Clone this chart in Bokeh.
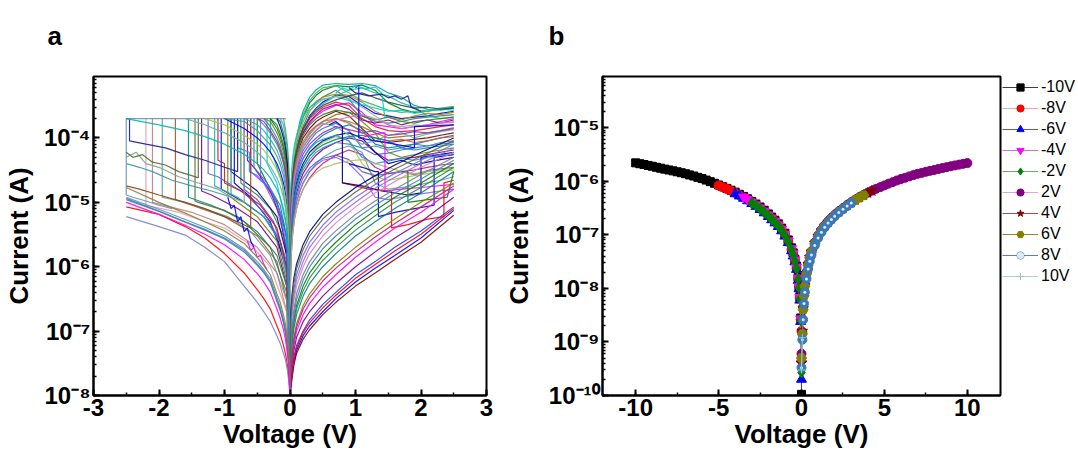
import numpy as np
from bokeh.plotting import figure
from bokeh.layouts import row, column
from bokeh.models import (SingleIntervalTicker, LogTicker, CustomJSTickFormatter, Legend,
                          LegendItem, Label)
from bokeh.embed import file_html
from bokeh.resources import INLINE

# ======================= Panel a data (I-V cycles) =======================
A_VN = [0, -0.005, -0.01, -0.02, -0.04, -0.07, -0.1, -0.15, -0.2, -0.3, -0.4, -0.5,
        -0.7, -1.0, -1.3, -1.6, -2.0, -2.5]
A_LRS_NEG = [
    [1.5e-8, 6e-6, 1.2e-5, 2.4e-5, 4.8e-5, 8.5e-5, 1.2e-4, 1.8e-4, 2e-4],
    [2e-8, 4e-6, 8e-6, 1.6e-5, 3.2e-5, 5.6e-5, 8e-5, 1.2e-4, 1.6e-4, 2e-4],
    [1e-8, 2.5e-6, 5e-6, 1e-5, 2e-5, 3.5e-5, 5e-5, 7.5e-5, 1e-4, 1.5e-4, 2e-4],
    [1.2e-8, 1.6e-6, 3.2e-6, 6.5e-6, 1.3e-5, 2.2e-5, 3.2e-5, 4.8e-5, 6.5e-5, 9.5e-5, 1.3e-4, 1.6e-4, 2e-4],
    [1e-8, 1e-6, 2e-6, 4e-6, 8e-6, 1.4e-5, 2e-5, 3e-5, 4e-5, 6e-5, 8e-5, 1e-4, 1.4e-4, 2e-4],
    [2e-8, 6e-7, 1.2e-6, 2.5e-6, 5e-6, 8.5e-6, 1.2e-5, 1.8e-5, 2.4e-5, 3.6e-5, 4.8e-5, 6e-5, 8.5e-5, 1.2e-4, 1.6e-4, 2e-4],
    [1e-8, 3.5e-6, 7e-6, 1.4e-5, 2.8e-5, 4.9e-5, 7e-5, 1.05e-4, 1.4e-4, 2e-4],
    [1e-8, 8e-6, 1.6e-5, 3.2e-5, 6.4e-5, 1.1e-4, 1.6e-4, 2e-4],
    [3e-8, 2e-6, 4e-6, 8e-6, 1.6e-5, 2.8e-5, 4e-5, 6e-5, 8e-5, 1.2e-4, 1.6e-4, 2e-4],
    [1e-8, 1.3e-6, 2.6e-6, 5.2e-6, 1e-5, 1.8e-5, 2.6e-5, 3.9e-5, 5.2e-5, 7.8e-5, 1e-4, 1.3e-4, 1.8e-4, 2e-4],
    [1e-8, 3e-6, 6e-6, 1.2e-5, 2.4e-5, 4.2e-5, 6e-5, 9e-5, 1.2e-4, 1.8e-4, 2e-4],
    [1.5e-8, 5e-6, 1e-5, 2e-5, 4e-5, 7e-5, 1e-4, 1.5e-4, 2e-4],
    [1e-8, 8e-7, 1.6e-6, 3.2e-6, 6.4e-6, 1.1e-5, 1.6e-5, 2.4e-5, 3.2e-5, 4.8e-5, 6.4e-5, 8e-5, 1.1e-4, 1.6e-4, 2e-4],
    [2e-8, 2.2e-6, 4.4e-6, 8.8e-6, 1.8e-5, 3.1e-5, 4.4e-5, 6.6e-5, 8.8e-5, 1.3e-4, 1.8e-4, 2e-4],
    [1e-8, 4e-7, 8e-7, 1.6e-6, 3.2e-6, 5.6e-6, 8e-6, 1.2e-5, 1.6e-5, 2.4e-5, 3.2e-5, 4e-5, 5.6e-5, 8e-5, 1.05e-4, 1.3e-4, 1.6e-4, 2e-4],
    [1e-8, 1e-5, 2e-5, 4e-5, 8e-5, 1.4e-4, 2e-4],
]
A_HRS_NEG = [
    [1e-8, 1.5e-8, 2.2e-8, 3.5e-8, 6e-8, 1e-7, 1.4e-7, 2.2e-7, 3e-7, 6e-7, 8.5e-7, 1.1e-6, 1.8e-6, 2.8e-6, 3.8e-6, 5e-6, 7.3e-6, 1.15e-5],
    [1e-8, 1.6e-8, 2.4e-8, 3.8e-8, 6.5e-8, 1.1e-7, 1.5e-7, 2.4e-7, 3.3e-7, 6.5e-7, 9e-7, 1.2e-6, 1.9e-6, 3e-6, 4.1e-6, 5.4e-6, 7.8e-6, 1.2e-5],
    [1e-8, 1.4e-8, 2e-8, 3.3e-8, 5.6e-8, 9.5e-8, 1.35e-7, 2.1e-7, 2.9e-7, 5.7e-7, 8e-7, 1.05e-6, 1.7e-6, 2.7e-6, 3.7e-6, 4.9e-6, 7.2e-6, 1.1e-5],
    [1e-8, 1.2e-8, 1.5e-8, 2e-8, 3e-8, 4.5e-8, 6e-8, 9e-8, 1.2e-7, 2.2e-7, 3.2e-7, 4.4e-7, 8e-7, 1.6e-6, 2.8e-6, 4.2e-6, 6.5e-6, 8.5e-6],
    [1e-8, 1.1e-8, 1.3e-8, 1.7e-8, 2.5e-8, 3.6e-8, 4.5e-8, 6.5e-8, 8.5e-8, 1.4e-7, 2e-7, 2.8e-7, 5e-7, 1.2e-6, 2e-6, 3.1e-6, 4.2e-6, 6e-6],
    [1e-8, 1.8e-8, 2.8e-8, 4.6e-8, 8e-8, 1.3e-7, 1.8e-7, 2.8e-7, 3.8e-7, 7.5e-7, 1.05e-6, 1.4e-6, 2.3e-6, 3.6e-6, 5e-6, 6.8e-6, 1e-5, 1.7e-5],
    [1e-8, 1.3e-8, 1.8e-8, 2.8e-8, 4.5e-8, 7.5e-8, 1.05e-7, 1.6e-7, 2.2e-7, 4e-7, 5.8e-7, 7.8e-7, 1.3e-6, 2.2e-6, 3.2e-6, 4.4e-6, 6.5e-6, 1e-5],
]
A_SET_V = [
    [0, -0.05, -0.2, -0.5, -1.0, -1.5, -2.1, -2.1],
    [0, -0.05, -0.2, -0.5, -1.0, -1.5, -1.75, -1.75],
    [0, -0.05, -0.2, -0.5, -0.8, -1.2, -1.35, -1.35],
    [0, -0.05, -0.2, -0.4, -0.7, -1.0, -1.05, -1.05],
    [0, -0.03, -0.1, -0.3, -0.5, -0.75, -0.75],
    [0, -0.03, -0.1, -0.2, -0.4, -0.6, -0.6],
    [0, -0.05, -0.2, -0.5, -0.9, -0.9],
    [0, -0.05, -0.2, -0.5, -0.5],
    [0, -0.05, -0.2, -0.4, -0.45, -0.45],
    [0, -0.05, -0.3, -0.6, -0.85, -0.85],
    [0, -0.05, -0.2, -0.5, -0.8, -1.2, -1.55, -1.55],
    [0, -0.05, -0.2, -0.5, -0.8, -0.95, -0.95],
    [0, -0.05, -0.2, -0.35, -0.35],
    [0, -0.05, -0.3, -0.6, -1.0, -1.3, -1.7, -2.2, -2.2],
    [0, -0.04, -0.15, -0.4, -0.7, -1.1, -1.25, -1.25],
    [0, -0.04, -0.15, -0.3, -0.55, -0.65, -0.65],
    [0, -0.04, -0.15, -0.4, -0.8, -1.15, -1.15],
    [0, -0.04, -0.15, -0.35, -0.55, -0.55],
    [0, -0.05, -0.25, -0.5, -0.7, -0.7],
    [0, -0.05, -0.3, -0.7, -1.0, -1.4, -1.45, -1.45],
    [0, -0.04, -0.12, -0.25, -0.3, -0.3],
    [0, -0.05, -0.2, -0.45, -0.75, -1.0, -1.0, -1.1, -1.1],
    [0, -0.05, -0.3, -0.6, -0.95, -1.6, -1.95, -1.95],
    [0, -0.04, -0.15, -0.3, -0.5, -0.62, -0.62, -0.8, -0.8],
]
A_SET_I = [
    [1e-8, 2e-7, 8e-7, 2e-6, 4.5e-6, 7e-6, 1e-5, 2e-4],
    [1e-8, 3e-7, 1.2e-6, 3e-6, 6e-6, 9e-6, 1.1e-5, 2e-4],
    [1e-8, 5e-7, 2e-6, 5e-6, 8e-6, 1.3e-5, 1.5e-5, 2e-4],
    [1e-8, 8e-7, 3e-6, 6e-6, 1e-5, 1.5e-5, 1.6e-5, 2e-4],
    [1e-8, 1e-6, 3e-6, 8e-6, 1.3e-5, 2e-5, 2e-4],
    [1e-8, 2e-6, 5e-6, 1e-5, 2e-5, 3e-5, 2e-4],
    [1e-8, 1.5e-6, 6e-6, 1.5e-5, 3e-5, 2e-4],
    [1e-8, 3e-6, 1e-5, 4e-5, 2e-4],
    [1e-8, 2e-6, 8e-6, 2e-5, 2.2e-5, 2e-4],
    [1e-8, 1e-6, 5e-6, 1.2e-5, 2e-5, 2e-4],
    [1e-8, 5e-7, 1.5e-6, 3.5e-6, 6e-6, 9e-6, 1.2e-5, 2e-4],
    [1e-8, 6e-7, 2.5e-6, 6e-6, 1e-5, 1.3e-5, 2e-4],
    [1e-8, 4e-6, 2e-5, 4e-5, 2e-4],
    [1e-8, 2e-7, 1e-6, 2.2e-6, 4e-6, 5e-6, 7e-6, 9e-6, 2e-4],
    [1e-8, 7e-7, 2.5e-6, 7e-6, 1.4e-5, 2.5e-5, 2.8e-5, 2e-4],
    [1e-8, 1.5e-6, 6e-6, 1.5e-5, 3.5e-5, 4.5e-5, 2e-4],
    [1e-8, 6e-7, 2.4e-6, 6e-6, 1.2e-5, 1.8e-5, 2e-4],
    [1e-8, 2.5e-6, 9e-6, 2e-5, 3.5e-5, 2e-4],
    [1e-8, 1.2e-6, 5e-6, 1.1e-5, 1.6e-5, 2e-4],
    [1e-8, 4e-7, 2e-6, 5e-6, 7.5e-6, 1e-5, 1.05e-5, 2e-4],
    [1e-8, 5e-6, 2e-5, 5e-5, 6e-5, 2e-4],
    [1e-8, 1e-6, 4e-6, 9e-6, 1.5e-5, 2e-5, 4e-5, 4.5e-5, 2e-4],
    [1e-8, 3e-7, 1.5e-6, 3.5e-6, 6e-6, 1e-5, 1.2e-5, 2e-4],
    [1e-8, 1.8e-6, 7e-6, 1.6e-5, 2.6e-5, 3e-5, 6e-5, 7e-5, 2e-4],
]
A_MID_V = [
    [-2.5, -2.45, -2.45, -2.2, -1.9, -1.6, -1.3, -1.0, -0.8, -0.8],
    [-2.5, -2.3, -2.1, -1.8, -1.5, -1.2, -1.0, -0.9, -0.9],
    [-2.5, -2.35, -2.2, -2.0, -1.7, -1.4, -1.1, -0.9, -0.7, -0.7],
    [-2.5, -2.3, -2.0, -1.6, -1.3, -1.0, -0.8, -0.6, -0.6],
    [-2.5, -2.5, -2.4, -2.2, -2.0, -1.8],
    [-2.5, -2.4, -2.25, -2.1, -1.9, -1.7, -1.5, -1.4, -1.4],
    [-0.95, -0.9, -0.85, -0.8, -0.75, -0.7, -0.65, -0.6, -0.55],
    [-0.65, -0.6, -0.55, -0.5, -0.45, -0.4, -0.35],
]
A_MID_I = [
    [2e-4, 2e-4, 9e-5, 8e-5, 7e-5, 5.5e-5, 4.5e-5, 3.5e-5, 3e-5, 2e-4],
    [4e-5, 3.5e-5, 3e-5, 2.2e-5, 1.8e-5, 1.5e-5, 1.3e-5, 1.2e-5, 2e-4],
    [5e-5, 6e-5, 4e-5, 3.5e-5, 2.5e-5, 2e-5, 1.6e-5, 1.2e-5, 1e-5, 2e-4],
    [1.8e-5, 1.6e-5, 1.3e-5, 1e-5, 8e-6, 6e-6, 5e-6, 4e-6, 2e-4],
    [2e-4, 1.3e-5, 1.2e-5, 1.05e-5, 9e-6, 8e-6],
    [6e-5, 5e-5, 5.5e-5, 4.2e-5, 3.8e-5, 3e-5, 2.6e-5, 2.4e-5, 2e-4],
    [1.2e-5, 8e-6, 9e-6, 5e-6, 6e-6, 3.5e-6, 4e-6, 2.5e-6, 2e-6],
    [2.5e-6, 1.8e-6, 2e-6, 1.4e-6, 1.5e-6, 1.1e-6, 9e-7],
]
A_COMP_V = [-2.5, -0.06]
A_COMP_I = [2e-4, 2e-4]
A_VP = [0, 0.005, 0.01, 0.02, 0.04, 0.07, 0.1, 0.15, 0.2, 0.3, 0.4, 0.5, 0.7, 0.9,
        1.1, 1.3, 1.5, 1.7, 1.9, 2.1, 2.3, 2.5]
A_LRS_POS = [
    [1e-8, 4e-6, 8e-6, 1.6e-5, 3.2e-5, 5.6e-5, 8e-5, 1.4e-4, 2.1e-4, 3.5e-4, 4.6e-4, 5.5e-4, 6.5e-4, 6.2e-4, 6.6e-4, 5.5e-4, 3.5e-4, 2.8e-4, 2.5e-4, 2.6e-4, 2.8e-4, 3e-4],
    [1e-8, 3e-6, 6e-6, 1.2e-5, 2.4e-5, 4.2e-5, 6e-5, 9.5e-5, 1.35e-4, 2.2e-4, 2.9e-4, 3.6e-4, 4.6e-4, 4.4e-4, 3.2e-4, 2.4e-4, 2.2e-4, 2e-4, 2.1e-4, 2.2e-4, 2.4e-4, 2.6e-4],
    [1e-8, 3e-6, 6e-6, 1.2e-5, 2.4e-5, 4.2e-5, 6e-5, 9e-5, 1.2e-4, 1.7e-4, 2.2e-4, 2.6e-4, 3.2e-4, 3.5e-4, 2.5e-4, 1.6e-4, 1.5e-4, 1.4e-4, 1.5e-4, 1.6e-4, 1.8e-4, 2e-4],
    [1e-8, 2e-6, 4e-6, 8e-6, 1.6e-5, 2.8e-5, 4e-5, 6e-5, 8e-5, 1.15e-4, 1.5e-4, 1.8e-4, 2.3e-4, 2.5e-4, 1.8e-4, 1.2e-4, 1e-4, 1.05e-4, 1.1e-4, 1.2e-4, 1.3e-4, 1.45e-4],
    [1e-8, 1.2e-6, 2.4e-6, 4.8e-6, 9.6e-6, 1.7e-5, 2.4e-5, 3.6e-5, 4.8e-5, 7e-5, 9e-5, 1.1e-4, 1.4e-4, 1.6e-4, 1.3e-4, 8e-5, 7e-5, 7.5e-5, 8e-5, 9e-5, 1e-4, 1.1e-4],
    [1e-8, 7e-7, 1.4e-6, 2.8e-6, 5.6e-6, 9.8e-6, 1.4e-5, 2.1e-5, 2.8e-5, 4.1e-5, 5.4e-5, 6.6e-5, 8.5e-5, 1e-4, 9e-5, 6e-5, 4.5e-5, 4.8e-5, 5e-5, 5.5e-5, 6e-5, 6.5e-5],
    [1e-8, 4e-7, 8e-7, 1.6e-6, 3.2e-6, 5.6e-6, 8e-6, 1.2e-5, 1.6e-5, 2.4e-5, 3.2e-5, 4e-5, 5.4e-5, 6.5e-5, 5.5e-5, 3.5e-5, 2.8e-5, 3e-5, 3.2e-5, 3.5e-5, 3.8e-5, 4e-5],
    [1e-8, 5e-6, 1e-5, 2e-5, 4e-5, 7e-5, 1e-4, 1.8e-4, 2.6e-4, 4.3e-4, 5.6e-4, 6.6e-4, 7e-4, 6.8e-4, 7e-4, 6.5e-4, 5e-4, 4.3e-4, 3.2e-4, 2.8e-4, 2.7e-4, 2.9e-4],
    [1e-8, 3e-6, 6e-6, 1.2e-5, 2.4e-5, 4.2e-5, 6e-5, 1e-4, 1.5e-4, 2.6e-4, 3.5e-4, 4.3e-4, 5.5e-4, 4e-4, 2.2e-4, 1.8e-4, 1.7e-4, 1.8e-4, 2e-4, 2.1e-4, 2.2e-4, 2.3e-4],
    [1e-8, 2.5e-6, 5e-6, 1e-5, 2e-5, 3.5e-5, 5e-5, 7.5e-5, 1e-4, 1.4e-4, 1.8e-4, 2.1e-4, 2.6e-4, 2.2e-4, 1.4e-4, 9e-5, 8.5e-5, 9e-5, 9.5e-5, 1e-4, 1.1e-4, 1.2e-4],
    [1e-8, 1.6e-6, 3.2e-6, 6.4e-6, 1.3e-5, 2.2e-5, 3.2e-5, 4.8e-5, 6.4e-5, 9e-5, 1.2e-4, 1.4e-4, 1.7e-4, 1.3e-4, 7e-5, 5.5e-5, 5.8e-5, 6.5e-5, 7e-5, 7.5e-5, 8e-5, 8.5e-5],
    [1e-8, 9e-7, 1.8e-6, 3.6e-6, 7.2e-6, 1.3e-5, 1.8e-5, 2.7e-5, 3.6e-5, 5.3e-5, 7e-5, 8.5e-5, 1.05e-4, 9e-5, 4e-5, 2.5e-5, 2.2e-5, 2.4e-5, 2.6e-5, 2.8e-5, 3e-5, 3.2e-5],
    [1e-8, 2.5e-6, 5e-6, 1e-5, 2e-5, 3.5e-5, 5e-5, 8.5e-5, 1.25e-4, 2.1e-4, 2.8e-4, 3.4e-4, 4.5e-4, 5.5e-4, 6e-4, 5e-4, 4.5e-4, 3.5e-4, 3e-4, 2.2e-4, 2e-4, 2.1e-4],
    [1e-8, 3.5e-6, 7e-6, 1.4e-5, 2.8e-5, 4.9e-5, 7e-5, 1.05e-4, 1.4e-4, 2e-4, 2.5e-4, 3e-4, 3.6e-4, 3.2e-4, 2e-4, 1.5e-4, 1.3e-4, 1.25e-4, 1.3e-4, 1.4e-4, 1.5e-4, 1.6e-4],
    [1e-8, 1.8e-6, 3.6e-6, 7.2e-6, 1.4e-5, 2.5e-5, 3.6e-5, 5.4e-5, 7.2e-5, 1e-4, 1.3e-4, 1.6e-4, 2e-4, 1.8e-4, 1.5e-4, 1.2e-4, 6e-5, 5e-5, 5.5e-5, 6e-5, 6.5e-5, 7e-5],
    [1e-8, 5e-7, 1e-6, 2e-6, 4e-6, 7e-6, 1e-5, 1.5e-5, 2e-5, 3e-5, 4e-5, 5e-5, 6.5e-5, 7.5e-5, 6e-5, 2e-5, 1.6e-5, 1.7e-5, 1.8e-5, 2e-5, 2.2e-5, 2.5e-5],
    [1e-8, 4.5e-6, 9e-6, 1.8e-5, 3.6e-5, 6.3e-5, 9e-5, 1.6e-4, 2.3e-4, 3.8e-4, 5e-4, 6e-4, 6.5e-4, 5e-4, 3.8e-4, 3.2e-4, 2.7e-4, 2.5e-4, 2.6e-4, 2.7e-4, 2.9e-4, 3.1e-4],
    [1e-8, 3e-6, 6e-6, 1.2e-5, 2.4e-5, 4.2e-5, 6e-5, 9e-5, 1.2e-4, 1.8e-4, 2.3e-4, 2.8e-4, 3.3e-4, 2.8e-4, 1.9e-4, 1.7e-4, 1.9e-4, 1.6e-4, 1.8e-4, 1.9e-4, 1.7e-4, 1.9e-4],
    [1e-8, 1e-6, 2e-6, 4e-6, 8e-6, 1.4e-5, 2e-5, 3e-5, 4e-5, 6e-5, 7.5e-5, 9e-5, 1.1e-4, 1.2e-4, 1e-4, 6e-5, 4e-5, 4.5e-5, 3.8e-5, 4.2e-5, 4.6e-5, 5e-5],
    [1e-8, 3.5e-6, 7e-6, 1.4e-5, 2.8e-5, 4.9e-5, 7e-5, 1.2e-4, 1.8e-4, 2.9e-4, 3.7e-4, 4.3e-4, 4.8e-4, 4.6e-4, 3.6e-4, 2.6e-4, 2.1e-4, 1.9e-4, 2.2e-4, 2.4e-4, 2.3e-4, 2.5e-4],
    [1e-8, 2e-6, 4e-6, 8e-6, 1.6e-5, 2.8e-5, 4e-5, 6e-5, 8e-5, 1.2e-4, 1.5e-4, 1.7e-4, 1.5e-4, 1.1e-4, 8e-5, 9e-5, 1.1e-4, 1.2e-4, 1e-4, 1.15e-4, 1.25e-4, 1.35e-4],
    [1e-8, 5e-7, 1e-6, 2e-6, 4e-6, 7e-6, 1e-5, 1.5e-5, 2e-5, 3e-5, 3.8e-5, 4.5e-5, 5e-5, 4e-5, 2.5e-5, 1.2e-5, 1.1e-5, 1.2e-5, 1.3e-5, 1.4e-5, 1.5e-5, 1.6e-5],
    [1e-8, 6e-6, 1.2e-5, 2.4e-5, 4.8e-5, 8e-5, 1.1e-4, 1.6e-4, 2.1e-4, 3e-4, 3.6e-4, 4e-4, 4.4e-4, 3.8e-4, 3.3e-4, 2.9e-4, 2.6e-4, 2.7e-4, 2.4e-4, 2.6e-4, 2.8e-4, 2.7e-4],
    [1e-8, 2.8e-6, 5.6e-6, 1.1e-5, 2.2e-5, 3.9e-5, 5.6e-5, 8.4e-5, 1.1e-4, 1.6e-4, 2e-4, 2.3e-4, 2.7e-4, 2.5e-4, 2.2e-4, 1.9e-4, 2.1e-4, 1.8e-4, 1.7e-4, 1.9e-4, 2e-4, 2.1e-4],
    [1e-8, 1.4e-6, 2.8e-6, 5.6e-6, 1.1e-5, 2e-5, 2.8e-5, 4.2e-5, 5.6e-5, 8e-5, 1e-4, 1.2e-4, 1.5e-4, 1.35e-4, 1.2e-4, 1.3e-4, 1.1e-4, 1.15e-4, 1.25e-4, 1.2e-4, 1.3e-4, 1.4e-4],
    [1e-8, 8e-7, 1.6e-6, 3.2e-6, 6.4e-6, 1.1e-5, 1.6e-5, 2.4e-5, 3.2e-5, 4.6e-5, 6e-5, 7e-5, 8.5e-5, 8e-5, 7e-5, 7.5e-5, 6.5e-5, 7e-5, 8e-5, 7.5e-5, 8.5e-5, 9e-5],
    [1e-8, 4.5e-6, 9e-6, 1.8e-5, 3.6e-5, 6.3e-5, 9e-5, 1.35e-4, 1.8e-4, 2.6e-4, 3.3e-4, 3.9e-4, 4.4e-4, 4.1e-4, 3e-4, 2.2e-4, 1.6e-4, 1.5e-4, 1.6e-4, 1.5e-4, 1.7e-4, 1.8e-4],
    [1e-8, 2.2e-6, 4.4e-6, 8.8e-6, 1.8e-5, 3.1e-5, 4.4e-5, 6.6e-5, 8.8e-5, 1.25e-4, 1.55e-4, 1.8e-4, 2e-4, 1.7e-4, 1.2e-4, 1e-4, 9e-5, 9.5e-5, 8.5e-5, 9e-5, 1e-4, 1.05e-4],
    [1e-8, 1.2e-6, 2.4e-6, 4.8e-6, 9.6e-6, 1.7e-5, 2.4e-5, 3.6e-5, 4.8e-5, 6.8e-5, 8.5e-5, 9.5e-5, 1.1e-4, 9e-5, 5e-5, 4e-5, 4.4e-5, 4.8e-5, 4.5e-5, 5e-5, 5.4e-5, 5.8e-5],
    [1e-8, 6e-7, 1.2e-6, 2.4e-6, 4.8e-6, 8.4e-6, 1.2e-5, 1.8e-5, 2.4e-5, 3.4e-5, 4.2e-5, 4.8e-5, 5.4e-5, 4.6e-5, 3e-5, 2.6e-5, 2.8e-5, 3e-5, 2.7e-5, 3.1e-5, 3.3e-5, 3.5e-5],
    [1e-8, 3.2e-6, 6.4e-6, 1.3e-5, 2.6e-5, 4.5e-5, 6.4e-5, 1e-4, 1.4e-4, 2.1e-4, 2.7e-4, 3.2e-4, 3.9e-4, 4.5e-4, 5e-4, 4.2e-4, 3.6e-4, 3.2e-4, 2.9e-4, 3e-4, 2.8e-4, 2.9e-4],
    [1e-8, 1.8e-6, 3.6e-6, 7.2e-6, 1.4e-5, 2.5e-5, 3.6e-5, 5.4e-5, 7.2e-5, 1.05e-4, 1.35e-4, 1.6e-4, 1.9e-4, 2.1e-4, 2.3e-4, 2e-4, 1.6e-4, 1.4e-4, 1.5e-4, 1.6e-4, 1.7e-4, 1.75e-4],
    [1e-8, 9e-7, 1.8e-6, 3.6e-6, 7.2e-6, 1.25e-5, 1.8e-5, 2.7e-5, 3.6e-5, 5.2e-5, 6.6e-5, 7.8e-5, 9.5e-5, 1.05e-4, 1.1e-4, 1e-4, 9e-5, 7e-5, 6.5e-5, 7e-5, 7.5e-5, 8e-5],
    [1e-8, 4e-7, 8e-7, 1.6e-6, 3.2e-6, 5.6e-6, 8e-6, 1.2e-5, 1.6e-5, 2.3e-5, 2.9e-5, 3.4e-5, 4e-5, 4.4e-5, 4.6e-5, 4e-5, 3.5e-5, 3e-5, 2.8e-5, 3e-5, 3.2e-5, 3.4e-5],
]
A_VH = [0, 0.01, 0.03, 0.06, 0.1, 0.2, 0.3, 0.5, 0.7, 1.0, 1.3, 1.6, 2.0, 2.5]
A_HRS_POS = [
    [1e-8, 1.2e-8, 1.8e-8, 3e-8, 4.5e-8, 7.5e-8, 1.05e-7, 1.8e-7, 2.8e-7, 5e-7, 8e-7, 1.3e-6, 2.4e-6, 6.3e-6],
    [1e-8, 1.3e-8, 2e-8, 3.3e-8, 5e-8, 8.5e-8, 1.2e-7, 2e-7, 3.2e-7, 5.8e-7, 9.5e-7, 1.5e-6, 2.8e-6, 7.5e-6],
    [1e-8, 1.5e-8, 2.4e-8, 4e-8, 6e-8, 1e-7, 1.5e-7, 2.6e-7, 4e-7, 7.5e-7, 1.2e-6, 2e-6, 3.6e-6, 8.5e-6],
    [1e-8, 1.8e-8, 3e-8, 5e-8, 8e-8, 1.4e-7, 2e-7, 3.5e-7, 5.5e-7, 1e-6, 1.7e-6, 2.8e-6, 5e-6, 1.2e-5],
    [1e-8, 2e-8, 3.5e-8, 6e-8, 1e-7, 1.8e-7, 2.7e-7, 4.8e-7, 7.5e-7, 1.4e-6, 2.4e-6, 4e-6, 7e-6, 1.6e-5],
    [1e-8, 2.5e-8, 4.5e-8, 8e-8, 1.3e-7, 2.5e-7, 3.8e-7, 7e-7, 1.1e-6, 2e-6, 3.4e-6, 5.5e-6, 1e-5, 2e-5],
    [1e-8, 3e-8, 6e-8, 1.1e-7, 1.8e-7, 3.5e-7, 5.5e-7, 1e-6, 1.6e-6, 3e-6, 5e-6, 8e-6, 1.4e-5, 3e-5],
    [1e-8, 4e-8, 8e-8, 1.5e-7, 2.5e-7, 5e-7, 8e-7, 1.5e-6, 2.4e-6, 4.5e-6, 7.5e-6, 1.2e-5, 2e-5, 4e-5],
    [1e-8, 6e-8, 1.2e-7, 2.2e-7, 3.8e-7, 7.5e-7, 1.2e-6, 2.3e-6, 3.6e-6, 6.5e-6, 1.05e-5, 1.6e-5, 2.7e-5, 5e-5],
    [1e-8, 8e-8, 1.6e-7, 3e-7, 5e-7, 1e-6, 1.6e-6, 3e-6, 4.8e-6, 8.5e-6, 1.4e-5, 2.1e-5, 3.5e-5, 6e-5],
    [1e-8, 1.2e-7, 2.4e-7, 4.5e-7, 7.5e-7, 1.5e-6, 2.4e-6, 4.4e-6, 7e-6, 1.2e-5, 1.9e-5, 2.8e-5, 4.5e-5, 8e-5],
    [1e-8, 1.8e-7, 3.6e-7, 6.8e-7, 1.1e-6, 2.2e-6, 3.5e-6, 6.5e-6, 1e-5, 1.7e-5, 2.6e-5, 3.8e-5, 6e-5, 1e-4],
    [1e-8, 1.4e-8, 2.2e-8, 3.6e-8, 5.5e-8, 9.5e-8, 1.35e-7, 2.3e-7, 3.6e-7, 6.6e-7, 1.08e-6, 1.75e-6, 3.2e-6, 8e-6],
    [1e-8, 2.2e-8, 4e-8, 7e-8, 1.15e-7, 2.2e-7, 3.3e-7, 6e-7, 9.5e-7, 1.7e-6, 2.9e-6, 4.7e-6, 8.5e-6, 1.8e-5],
    [1e-8, 3.5e-8, 7e-8, 1.3e-7, 2.2e-7, 4.2e-7, 6.7e-7, 1.25e-6, 2e-6, 3.7e-6, 6.2e-6, 1e-5, 1.7e-5, 3.5e-5],
    [1e-8, 5e-8, 1e-7, 1.8e-7, 3.1e-7, 6.2e-7, 1e-6, 1.9e-6, 3e-6, 5.5e-6, 9e-6, 1.4e-5, 2.3e-5, 4.5e-5],
    [1e-8, 1e-7, 2e-7, 3.7e-7, 6.2e-7, 1.2e-6, 2e-6, 3.7e-6, 5.9e-6, 1e-5, 1.65e-5, 2.45e-5, 4e-5, 7e-5],
    [1e-8, 1.5e-7, 3e-7, 5.6e-7, 9.3e-7, 1.85e-6, 3e-6, 5.5e-6, 8.5e-6, 1.45e-5, 2.25e-5, 3.3e-5, 5.2e-5, 9e-5],
]
A_RST_V = [
    [0.9, 1.1, 1.3, 1.35, 1.35, 1.6, 1.9, 2.2, 2.2, 2.5],
    [0.8, 1.0, 1.2, 1.55, 1.55, 1.8, 2.1, 2.35, 2.35, 2.5],
    [0.6, 0.7, 0.8, 0.8, 1.1, 1.4, 1.8, 2.0, 2.0, 2.5],
    [1.0, 1.05, 1.05, 1.3, 1.6, 1.9, 1.9, 2.5],
    [1.1, 1.2, 1.4, 1.45, 1.45, 1.7, 2.0, 2.5],
    [1.7, 1.8, 1.8, 2.1, 2.4, 2.5],
    [0.7, 0.8, 0.9, 1.0, 1.1, 1.2, 1.3, 1.4, 1.45],
    [0.9, 1.0, 1.2, 1.4, 1.5, 1.6, 1.7, 1.8, 1.85, 2.0],
]
A_RST_I = [
    [4e-5, 3.5e-5, 3e-5, 3e-5, 6e-6, 7e-6, 8e-6, 9e-6, 5e-5, 5.5e-5],
    [2e-5, 1.8e-5, 1.6e-5, 1.5e-5, 4e-6, 4.5e-6, 5.5e-6, 6e-6, 2e-5, 2.2e-5],
    [1.6e-4, 1.8e-4, 1.5e-4, 2e-5, 1.8e-5, 1.5e-5, 1.3e-5, 1.4e-5, 5e-5, 6e-5],
    [6e-4, 6.5e-4, 1e-4, 9e-5, 8e-5, 7e-5, 1.5e-4, 1.6e-4],
    [1e-4, 1.1e-4, 1.2e-4, 1.2e-4, 1.5e-5, 1.6e-5, 1.7e-5, 1.9e-5],
    [3e-5, 3e-5, 1e-5, 1.1e-5, 1.2e-5, 3e-5],
    [5e-4, 6e-4, 5.5e-4, 6.5e-4, 6e-4, 5.8e-4, 6.2e-4, 5e-4, 2e-4],
    [6e-4, 5e-4, 4.5e-4, 4.8e-4, 4.2e-4, 4.5e-4, 4e-4, 4.5e-4, 3e-4, 2.6e-4],
]

# ======================= Panel b data =======================
B_VN = [0, -0.05, -0.1, -0.15, -0.2, -0.3, -0.4, -0.5, -0.6, -0.8, -1.0, -1.2, -1.4, -1.6,
        -1.8, -2.0, -2.25, -2.5, -2.75, -3.0, -3.25, -3.5, -3.75, -4.0, -4.25, -4.5, -4.75,
        -5.0, -5.25, -5.5, -5.75, -6.0, -6.25, -6.5, -6.75, -7.0, -7.25, -7.5, -7.75, -8.0,
        -8.25, -8.5, -8.75, -9.0, -9.25, -9.5, -9.75, -10.0]
B_VP = [0, 0.05, 0.1, 0.15, 0.2, 0.3, 0.4, 0.5, 0.6, 0.8, 1.0, 1.2, 1.4, 1.6,
        1.8, 2.0, 2.25, 2.5, 2.75, 3.0, 3.25, 3.5, 3.75, 4.0, 4.25, 4.5, 4.75,
        5.0, 5.25, 5.5, 5.75, 6.0, 6.25, 6.5, 6.75, 7.0, 7.25, 7.5, 7.75, 8.0,
        8.25, 8.5, 8.75, 9.0, 9.25, 9.5, 9.75, 10.0]
B_LABELS = ["-10V", "-8V", "-6V", "-4V", "-2V", "2V", "4V", "6V", "8V", "10V"]
B_I = {
    "-10V": [1.05e-10, 2.8e-9, 7e-9, 1.12e-8, 1.6e-8, 2.6e-8, 3.5e-8, 4.6e-8, 5.7e-8, 8e-8, 1.07e-7, 1.33e-7,
             1.6e-7, 1.87e-7, 2.14e-7, 2.45e-7, 2.87e-7, 3.3e-7, 3.75e-7, 4.2e-7, 4.7e-7, 5.2e-7, 5.7e-7,
             6.25e-7, 6.8e-7, 7.35e-7, 7.9e-7, 8.5e-7, 9.15e-7, 9.8e-7, 1.05e-6, 1.12e-6, 1.18e-6, 1.25e-6,
             1.31e-6, 1.38e-6, 1.44e-6, 1.5e-6, 1.56e-6, 1.62e-6, 1.68e-6, 1.75e-6, 1.82e-6, 1.9e-6, 1.97e-6,
             2.05e-6, 2.12e-6, 2.2e-6],
    "-8V": [1.6e-9, 2.6e-9, 6.5e-9, 1.05e-8, 1.5e-8, 2.4e-8, 3.3e-8, 4.3e-8, 5.3e-8, 7.5e-8, 1e-7, 1.25e-7,
            1.5e-7, 1.75e-7, 2e-7, 2.3e-7, 2.7e-7, 3.1e-7, 3.55e-7, 4e-7, 4.5e-7, 5e-7, 5.5e-7, 6.05e-7,
            6.6e-7, 7.15e-7, 7.7e-7, 8.3e-7],
    "-6V": [2e-10, 2.4e-9, 6e-9, 9.8e-9, 1.4e-8, 2.25e-8, 3.1e-8, 4e-8, 5e-8, 7.1e-8, 9.4e-8, 1.18e-7,
            1.42e-7, 1.66e-7, 1.9e-7, 2.18e-7, 2.56e-7, 2.95e-7, 3.38e-7, 3.82e-7, 4.3e-7, 4.78e-7, 5.28e-7,
            5.8e-7],
    "-4V": [4e-10, 2.7e-9, 6.8e-9, 1.08e-8, 1.55e-8, 2.5e-8, 3.4e-8, 4.45e-8, 5.5e-8, 7.7e-8, 1.02e-7, 1.28e-7,
            1.53e-7, 1.79e-7, 2.05e-7, 2.35e-7, 2.76e-7, 3.17e-7, 3.62e-7, 4.08e-7, 4.58e-7, 5.08e-7],
    "-2V": [2.7e-10, 2.5e-9, 6.3e-9, 1.02e-8, 1.47e-8, 2.35e-8, 3.2e-8, 4.2e-8, 5.2e-8, 7.3e-8, 9.7e-8, 1.22e-7,
            1.46e-7, 1.71e-7, 1.96e-7, 2.25e-7, 2.64e-7, 3.03e-7, 3.47e-7, 3.9e-7],
    "2V": [6e-10, 1.5e-9, 4.5e-9, 8e-9, 1.2e-8, 2e-8, 2.9e-8, 3.9e-8, 4.9e-8, 7.2e-8, 9.7e-8, 1.23e-7,
           1.5e-7, 1.77e-7, 2.05e-7, 2.35e-7, 2.75e-7, 3.15e-7, 3.6e-7, 4.05e-7, 4.55e-7, 5.05e-7, 5.55e-7,
           6.1e-7, 6.65e-7, 7.2e-7, 7.75e-7, 8.35e-7, 9e-7, 9.6e-7, 1.03e-6, 1.1e-6, 1.16e-6, 1.23e-6,
           1.3e-6, 1.37e-6, 1.43e-6, 1.5e-6, 1.56e-6, 1.62e-6, 1.69e-6, 1.76e-6, 1.83e-6, 1.9e-6, 1.97e-6,
           2.04e-6, 2.11e-6, 2.18e-6],
    "4V": [4e-10, 1.6e-9, 4.2e-9, 7.6e-9, 1.15e-8, 1.9e-8, 2.8e-8, 3.8e-8, 4.8e-8, 7e-8, 9.4e-8, 1.2e-7,
           1.46e-7, 1.73e-7, 2e-7, 2.3e-7, 2.7e-7, 3.1e-7, 3.55e-7, 4e-7, 4.5e-7, 5e-7, 5.5e-7, 6.05e-7, 6.6e-7],
    "6V": [5e-10, 1.4e-9, 4e-9, 7.3e-9, 1.1e-8, 1.85e-8, 2.7e-8, 3.7e-8, 4.7e-8, 6.8e-8, 9.2e-8, 1.17e-7,
           1.43e-7, 1.7e-7, 1.97e-7, 2.27e-7, 2.66e-7, 3.06e-7, 3.5e-7, 3.95e-7, 4.45e-7, 4.95e-7, 5.45e-7],
    "8V": [3.3e-10, 1.1e-9, 2.6e-9, 5.2e-9, 8.5e-9, 1.5e-8, 2.3e-8, 3.2e-8, 4.2e-8, 6.3e-8, 8.7e-8, 1.12e-7,
           1.38e-7, 1.65e-7, 1.92e-7, 2.22e-7, 2.6e-7, 3e-7, 3.45e-7, 3.9e-7],
    "10V": [3e-10, 1.2e-9],
}

# ======================= styles =======================
FONT = "Liberation Sans"
COL_LRS_NEG = ["#008080", "#2E8B57", "#00A5A5", "#20B2AA", "#0000FF", "#66B2A0", "#008000", "#5F9EA0",
               "#3C8DC4", "#4A9A8A", "#808000", "#000080", "#9ACD32", "#C71585", "#00B4B4", "#3CB371"]
COL_HRS_NEG = ["#4682B4", "#5B8FB9", "#3F7FA8", "#FF0000", "#8080D0", "#8B7D3A", "#FF00FF"]
COL_SET = ["#C08080", "#A05A2C", "#800080", "#0000FF", "#2E8B57", "#FF00FF", "#000080", "#008000",
           "#7B68EE", "#0000CD", "#008B8B", "#808000", "#00CED1", "#E0A0B0", "#6A5ACD", "#8B008B",
           "#20B2AA", "#4169E1", "#9932CC", "#556B2F", "#00A5A5", "#B22222", "#5F9EA0", "#1E90FF"]
COL_MID = ["#1C1C8C", "#3A9A9A", "#7FA090", "#8B4513", "#6A8CC0", "#556B2F", "#0000FF", "#FF00FF"]
COL_LRS_POS = ["#008000", "#0000FF", "#FF00FF", "#808000", "#008080", "#800080", "#C71585", "#00A5A5",
               "#2E8B57", "#800000", "#4169E1", "#9ACD32", "#20B2AA", "#DC143C", "#6B8E23", "#5F9EA0",
               "#3CB371", "#8B008B", "#000080", "#B8860B", "#66B2A0", "#7B68EE", "#00CED1", "#228B22",
               "#9932CC", "#4682B4", "#8FBC8F", "#CD5C5C", "#1E90FF", "#6A5ACD", "#2F4F4F", "#DA70D6",
               "#008B8B", "#BDB76B"]
COL_HRS_POS = ["#800000", "#0000FF", "#1E3CFF", "#800080", "#FF00FF", "#808000", "#008080", "#008000",
               "#708090", "#E080C0", "#7B68EE", "#000080", "#FF0000", "#C71585", "#2E8B57", "#4682B4",
               "#9370DB", "#556B2F"]
COL_RST = ["#0000CD", "#FF0000", "#000080", "#0000FF", "#FF00FF", "#008000", "#00CED1", "#1C1C8C"]

B_MARK = {"-10V": ("square", "#000000", "#404040", 8), "-8V": ("circle", "#FF0000", "#F2A8A8", 9),
          "-6V": ("triangle", "#0000FF", "#5555C8", 10), "-4V": ("inverted_triangle", "#FF00FF", "#D070D0", 10),
          "-2V": ("diamond", "#008000", "#70A870", 11), "2V": ("circle", "#800080", "#D8A8D8", 9),
          "4V": ("star", "#800000", "#A05050", 11), "6V": ("hex", "#808000", "#8A8A30", 10),
          "8V": ("sphere", "#3A78B8", "#5A7FB0", 9), "10V": ("cross", "#8CC8C8", "#A8D4D4", 7)}

SUP = CustomJSTickFormatter(code=r"""
const m = {"-":"\u207b","0":"\u2070","1":"\u00b9","2":"\u00b2","3":"\u00b3","4":"\u2074",
           "5":"\u2075","6":"\u2076","7":"\u2077","8":"\u2078","9":"\u2079"};
const e = Math.round(Math.log10(tick));
return "10" + String(e).split("").map(c => m[c]).join("");
""")
XFMT = CustomJSTickFormatter(code="return String(Math.round(tick) + 0);")

HEADER_H = 70
MAIN_H = 454 - HEADER_H
TOP_B = 76 - HEADER_H
BOT_B = 59


def style(p, xint, ylabel_standoff):
    p.xaxis.ticker = SingleIntervalTicker(interval=xint, num_minor_ticks=2)
    p.xaxis.formatter = XFMT
    p.yaxis.ticker = LogTicker(num_minor_ticks=10)
    p.yaxis.formatter = SUP
    for ax in (p.xaxis[0], p.yaxis[0]):
        ax.axis_line_width = 2
        ax.major_tick_in = 6
        ax.major_tick_out = 0
        ax.minor_tick_in = 3
        ax.minor_tick_out = 0
        ax.major_tick_line_width = 2
        ax.minor_tick_line_width = 1.5
        ax.major_label_text_font = FONT
        ax.major_label_text_font_style = "bold"
        ax.major_label_text_font_size = "24px"
        ax.major_label_text_color = "black"
        ax.axis_label_text_font = FONT
        ax.axis_label_text_font_style = "bold"
        ax.axis_label_text_font_size = "26px"
        ax.axis_label_text_color = "black"
        ax.major_label_standoff = 3
    p.xaxis.axis_label = "Voltage (V)"
    p.yaxis.axis_label = "Current (A)"
    p.xaxis.axis_label_standoff = 0
    p.yaxis.axis_label_standoff = ylabel_standoff
    p.xgrid.visible = False
    p.ygrid.visible = False
    p.outline_line_color = "black"
    p.outline_line_width = 2


def blank(width, height, xr, yr, top=0, bottom=0):
    f = figure(width=width, height=height, x_range=xr, y_range=yr, output_backend="svg",
               toolbar_location=None, min_border_left=0, min_border_right=0,
               min_border_top=top, min_border_bottom=bottom,
               x_axis_location=None, y_axis_location=None)
    f.outline_line_color = None
    f.grid.visible = False
    return f


def header(width, txt, x):
    h = blank(width, HEADER_H, (0, width), (HEADER_H, 0))
    h.add_layout(Label(x=x, y=35, text=txt, text_font=FONT, text_font_style="bold",
                       text_font_size="26px", text_color="black", text_baseline="alphabetic"))
    return h


# ======================= Panel a =======================
p1 = figure(width=500, height=MAIN_H, x_range=(-3, 3), y_range=(1e-8, 9e-4), y_axis_type="log",
            output_backend="svg", toolbar_location=None,
            min_border_left=90, min_border_right=14, min_border_top=TOP_B, min_border_bottom=BOT_B)
style(p1, 1, 7)

xs, ys, cs = [], [], []


def add(vlist, ilist, col):
    n = min(len(vlist), len(ilist))
    xs.append(list(vlist[:n]))
    ys.append(list(ilist[:n]))
    cs.append(col)


for k, (v, i) in enumerate(zip(A_SET_V, A_SET_I)):
    add(v, i, COL_SET[k % len(COL_SET)])
for k, (v, i) in enumerate(zip(A_MID_V, A_MID_I)):
    add(v, i, COL_MID[k % len(COL_MID)])
add(A_COMP_V, A_COMP_I, "#7090B0")
for k, i in enumerate(A_LRS_NEG):
    add(A_VN, i, COL_LRS_NEG[k % len(COL_LRS_NEG)])
for k, i in enumerate(A_LRS_POS):
    add(A_VP, i, COL_LRS_POS[k % len(COL_LRS_POS)])
for k, (v, i) in enumerate(zip(A_RST_V, A_RST_I)):
    add(v, i, COL_RST[k % len(COL_RST)])
for k, i in enumerate(A_HRS_POS):
    add(A_VH, i, COL_HRS_POS[k % len(COL_HRS_POS)])
for k, i in enumerate(A_HRS_NEG):
    add(A_VN, i, COL_HRS_NEG[k % len(COL_HRS_NEG)])

p1.multi_line(xs=xs, ys=ys, line_color=cs, line_width=1.2, line_alpha=0.9)

# ======================= Panel b =======================
p2 = figure(width=502, height=MAIN_H, x_range=(-12, 12), y_range=(1e-10, 9e-5), y_axis_type="log",
            output_backend="svg", toolbar_location=None,
            min_border_left=100, min_border_right=2, min_border_top=TOP_B, min_border_bottom=BOT_B)
style(p2, 5, 12)

# legend lives in a narrow side figure; its proxies use the same series data, kept out of view
leg_fig = blank(76, MAIN_H, (0, 1), (5, 6), top=TOP_B, bottom=BOT_B)


def draw_series(fig, v, cur, mk, fc, lc, sz):
    rs = [fig.line(v, cur, line_color=lc, line_width=1)]
    if mk == "sphere":
        rs.append(fig.scatter(v, cur, marker="circle", size=sz, fill_color=fc, line_color=fc))
        rs.append(fig.scatter(v, cur, marker="circle", size=3, fill_color="#DDE8F4", line_color=None))
    elif mk == "cross":
        rs.append(fig.scatter(v, cur, marker=mk, size=sz, line_color=fc, line_width=1))
    else:
        rs.append(fig.scatter(v, cur, marker=mk, size=sz, fill_color=fc, line_color=fc))
    return rs


items = []
for lab in B_LABELS:
    cur = B_I[lab]
    grid = B_VN if lab.startswith("-") else B_VP
    v = grid[:len(cur)]
    mk, fc, lc, sz = B_MARK[lab]
    draw_series(p2, v, cur, mk, fc, lc, sz)
    proxy = draw_series(leg_fig, v, cur, mk, fc, lc, sz)
    items.append(LegendItem(label=lab, renderers=proxy))

legend = Legend(items=items, location=(0, 110), orientation="vertical",
                label_text_font=FONT, label_text_font_size="16px", label_text_color="black",
                glyph_width=36, glyph_height=18, label_height=18, spacing=3,
                padding=2, margin=0, label_standoff=3,
                border_line_color=None, background_fill_alpha=0)
leg_fig.add_layout(legend)

h1 = header(500, "a", 47)
h2 = header(578, "b", 48)

layout = column(row(h1, h2), row(p1, p2, leg_fig))
open("out.html", "w").write(file_html(layout, INLINE))
